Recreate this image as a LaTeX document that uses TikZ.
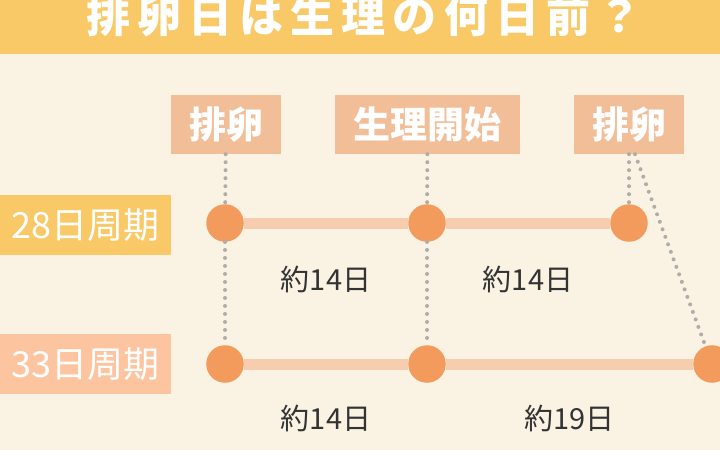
\documentclass[tikz,border=0pt]{standalone}
\usepackage{fontspec}
\setmainfont{Noto Sans CJK JP}
\usetikzlibrary{calc}
\definecolor{cream}{RGB}{250,243,227}
\definecolor{sun}{RGB}{248,201,102}
\definecolor{tagpink}{RGB}{242,190,152}
\definecolor{peach}{RGB}{252,197,160}
\definecolor{dotorange}{RGB}{242,155,92}
\definecolor{barpink}{RGB}{247,205,176}
\definecolor{guidegrey}{RGB}{175,173,170}
\definecolor{ink}{RGB}{51,51,51}
\tikzstyle{spot}=[circle, fill=dotorange, inner sep=0pt, minimum size=37.5pt]
\newcommand{\spot}{\node[spot]}
\tikzstyle{tag}=[fill=tagpink, text=white, inner sep=0pt, minimum height=59pt, font=\bfseries\fontsize{37}{37}\selectfont]
\tikzstyle{period}=[text=white, inner sep=0pt, minimum width=171pt, minimum height=60pt, font=\fontsize{36}{36}\selectfont]
\tikzstyle{gap}=[text=ink, font=\fontsize{29}{29}\selectfont]
\tikzstyle{guide}=[guidegrey, line width=4pt, line cap=round, dash pattern=on 0pt off 8pt]
\tikzstyle{link}=[barpink, line width=11pt]

\begin{document}
\begin{tikzpicture}[x=1pt,y=-1pt]
\useasboundingbox (0,0) rectangle (720,450);
\fill[cream] (0,0) rectangle (720,450);
\fill[sun] (0,0) rectangle (720,54);
\node[anchor=base, text=white, font=\bfseries\fontsize{44}{44}\selectfont] (title) at (364,32) {\addfontfeatures{LetterSpace=16}排卵日は生理の何日前？};
\node[tag, minimum width=110pt] (ov1) at (226,124.5) {排卵};
\node[tag, minimum width=185pt] (start) at (427.5,124.5) {生理開始};
\node[tag, minimum width=110pt] (ov2) at (629,124.5) {排卵};
\node[period, fill=sun] (r28) at (85.5,225) {28日周期};
\node[period, fill=peach] (r33) at (85.5,364) {33日周期};
\foreach \i/\x in {1/225,2/427,3/629}{
	\spot (a\i) at (\x,223){};
	}
\foreach \i/\x in {1/225,2/427,3/712}{
	\spot (b\i) at (\x,364){};
	}
\draw[guide] (ov1) -- (a1) (a1) -- (b1) (start) -- (a2) (a2) -- (b2) (ov2) -- (a3);
\draw[guide] ([xshift=6pt]ov2.south) -- (b3);
\draw[link] (a1) -- (a2) -- (a3);
\draw[link] (b1) -- (b2) -- (b3);
\node[gap] (g1) at ($(a1)!.5!(a2)+(0,56)$) {約14日};
\node[gap] (g2) at ($(a2)!.5!(a3)+(0,56)$) {約14日};
\node[gap] (g3) at ($(b1)!.5!(b2)+(0,54)$) {約14日};
\node[gap] (g4) at ($(b2)!.5!(b3)+(0,54)$) {約19日};
\end{tikzpicture}
\end{document}
